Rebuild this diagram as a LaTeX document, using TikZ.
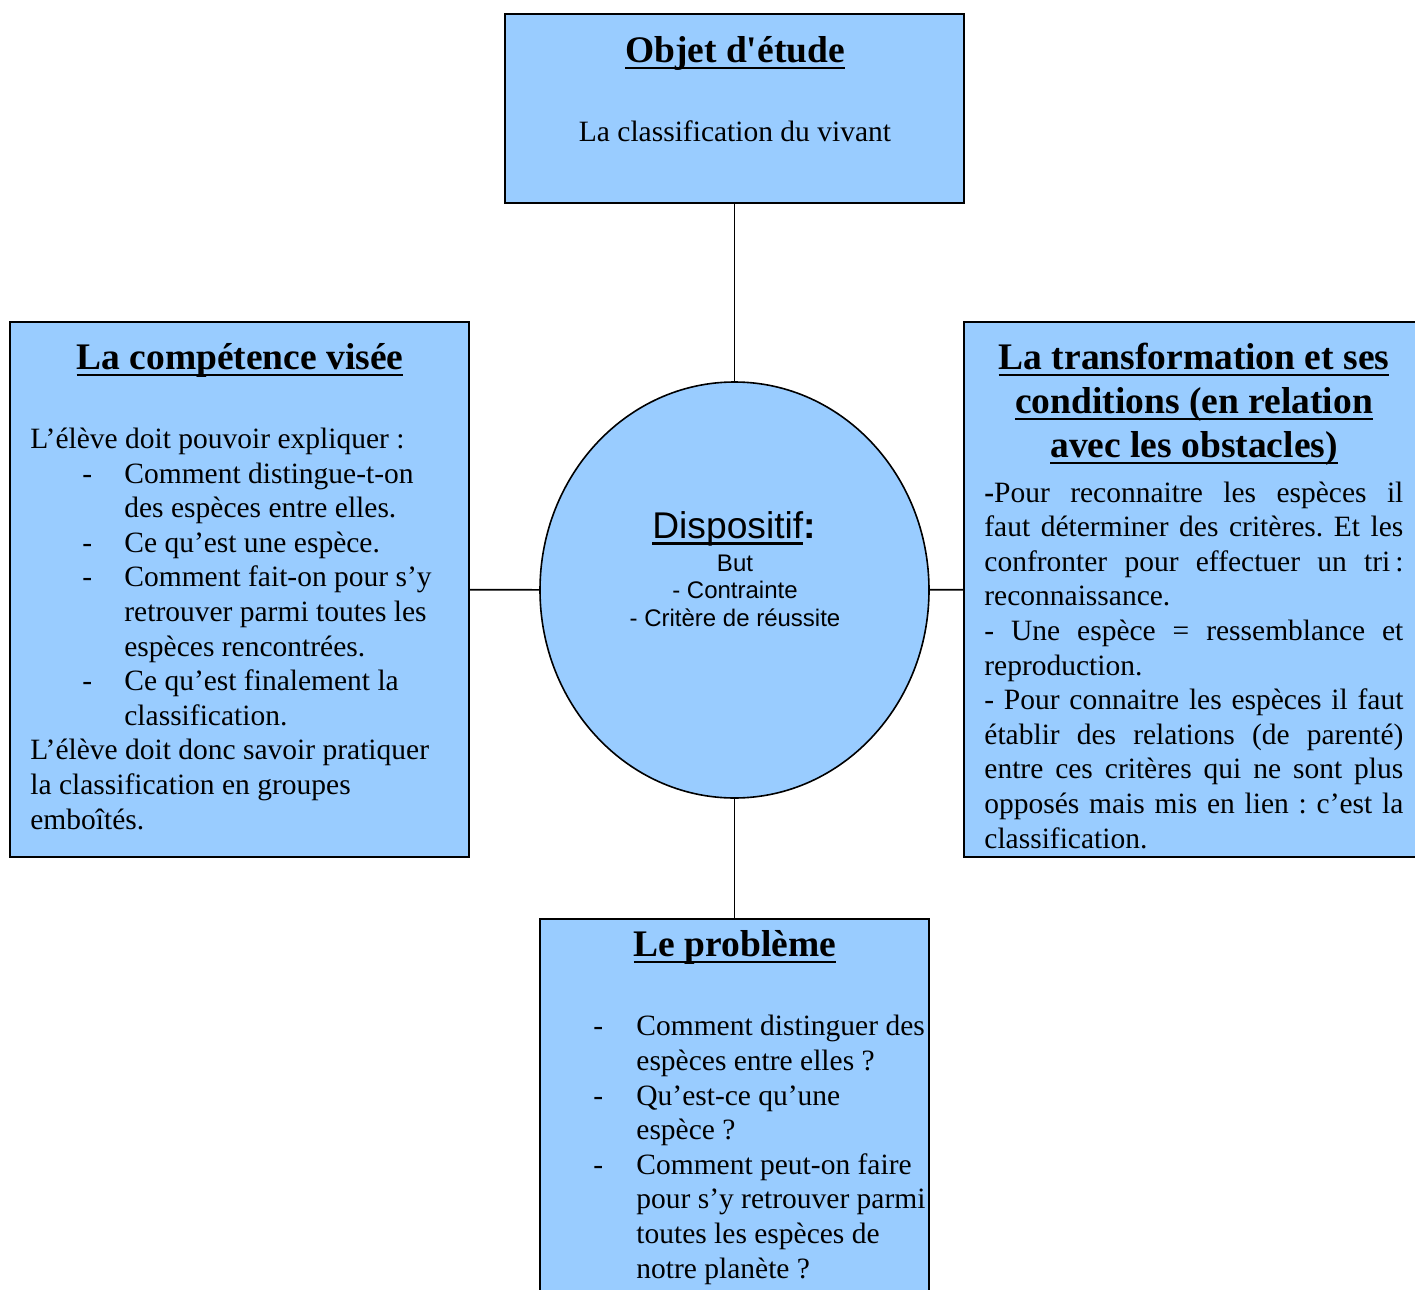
\documentclass[tikz,border=0pt]{standalone}
\usepackage{fontspec}
\setmainfont{Liberation Serif}
\newfontfamily\arialfont{Liberation Sans}
\usetikzlibrary{shapes.geometric}
\definecolor{boxblue}{RGB}{153,204,255}
\frenchspacing
% soulignement a hauteur fixe, comme dans Word
\newcommand{\souligne}[1]{\leavevmode\setbox0=\hbox{#1}\rlap{\rule[-0.19em]{\wd0}{0.07em}}\box0}
\newcommand{\tiret}{\hspace*{26pt}\makebox[21pt][l]{-}}
\newcommand{\suite}{\hspace*{47pt}}
\newcommand{\just}[1]{\makebox[209.5pt][s]{#1}}

\begin{document}
\begin{tikzpicture}[x=0.5pt, y=-0.5pt,
    boite/.style={draw=black, line width=1pt, fill=boxblue, inner sep=0pt},
    titre/.style={font=\fontsize{18.75}{22}\selectfont\bfseries, align=center,
                  anchor=base, inner sep=0pt},
    corps/.style={font=\fontsize{14.75}{17.3}\selectfont, align=left,
                  anchor=base west, inner sep=0pt},
    lien/.style={draw=black, line width=0.8pt}
  ]
  \useasboundingbox (0,0) rectangle (1415,1290);
  \fill[white] (0,0) rectangle (1415,1290);

  % objet d'etude
  \node[boite, minimum width=229.5pt, minimum height=94.5pt] (objet) at (734.5,108.5) {};
  \node[titre] (objet-t) at (735,62) {\souligne{Objet d\textquotesingle étude}};
  \node[corps, anchor=base] (objet-c) at (735,141) {La classification du vivant};

  % competence (base = derniere ligne)
  \node[boite, minimum width=229.5pt, minimum height=267.5pt] (competence) at (239.5,589.5) {};
  \node[titre] (competence-t) at (240,369) {\souligne{La compétence visée}};
  \node[corps] (competence-c) at (30,829) {L’élève doit pouvoir expliquer :\\
    \tiret Comment distingue-t-on\\ \suite des espèces entre elles.\\
    \tiret Ce qu’est une espèce.\\
    \tiret Comment fait-on pour s’y\\ \suite retrouver parmi toutes les\\
    \suite espèces rencontrées.\\
    \tiret Ce qu’est finalement la\\ \suite classification.\\
    L’élève doit donc savoir pratiquer\\ la classification en groupes\\ emboîtés.};

  % transformation
  \node[boite, minimum width=228pt, minimum height=267.5pt] (transfo) at (1192,589.5) {};
  \node[titre] (transfo-t) at (1194,457) {\souligne{La transformation et ses}\\
    \souligne{conditions (en relation}\\ \souligne{avec les obstacles)}};
  \node[corps] (transfo-c) at (984,848) {\just{{\bfseries -}Pour reconnaitre les espèces il}\\
    \just{faut déterminer des critères. Et les}\\
    \just{confronter pour effectuer un tri\,:}\\
    reconnaissance.\\
    \just{- Une espèce = ressemblance et}\\
    reproduction.\\
    \just{- Pour connaitre les espèces il faut}\\
    \just{établir des relations (de parenté)}\\
    \just{entre ces critères qui ne sont plus}\\
    \just{opposés mais mis en lien : c’est la}\\
    classification.};

  % dispositif
  \node[ellipse, draw=black, line width=0.8pt, fill=boxblue, inner sep=0pt,
        minimum width=194.5pt, minimum height=208pt] (dispositif) at (734.5,590) {};
  \node[font=\arialfont\fontsize{18.6}{20}\selectfont, anchor=base, inner sep=0pt]
    (dispositif-t) at (734,538) {\souligne{Dispositif}{\bfseries :}};
  \node[font=\arialfont\fontsize{12}{13.75}\selectfont, align=center, anchor=base,
        inner sep=0pt] (dispositif-c) at (735,626) {But\\- Contrainte\\- Critère de réussite};

  % probleme
  \node[boite, minimum width=194.5pt, minimum height=190.5pt] (probleme) at (734.5,1109.5) {};
  \node[titre] (probleme-t) at (735,956) {\souligne{Le problème}};
  \node[corps] (probleme-c) at (593,1278) {\makebox[21.5pt][l]{-}Comment distinguer des\\
    \hspace*{21.5pt}espèces entre elles ?\\
    \makebox[21.5pt][l]{-}Qu’est-ce qu’une\\ \hspace*{21.5pt}espèce ?\\
    \makebox[21.5pt][l]{-}Comment peut-on faire\\ \hspace*{21.5pt}pour s’y retrouver parmi\\
    \hspace*{21.5pt}toutes les espèces de\\ \hspace*{21.5pt}notre planète ?};

  \draw[lien] (objet) -- (dispositif);
  \draw[lien] (dispositif) -- (probleme);
  \draw[lien] (competence) -- (dispositif);
  \draw[lien] (dispositif) -- (transfo);
\end{tikzpicture}
\end{document}
